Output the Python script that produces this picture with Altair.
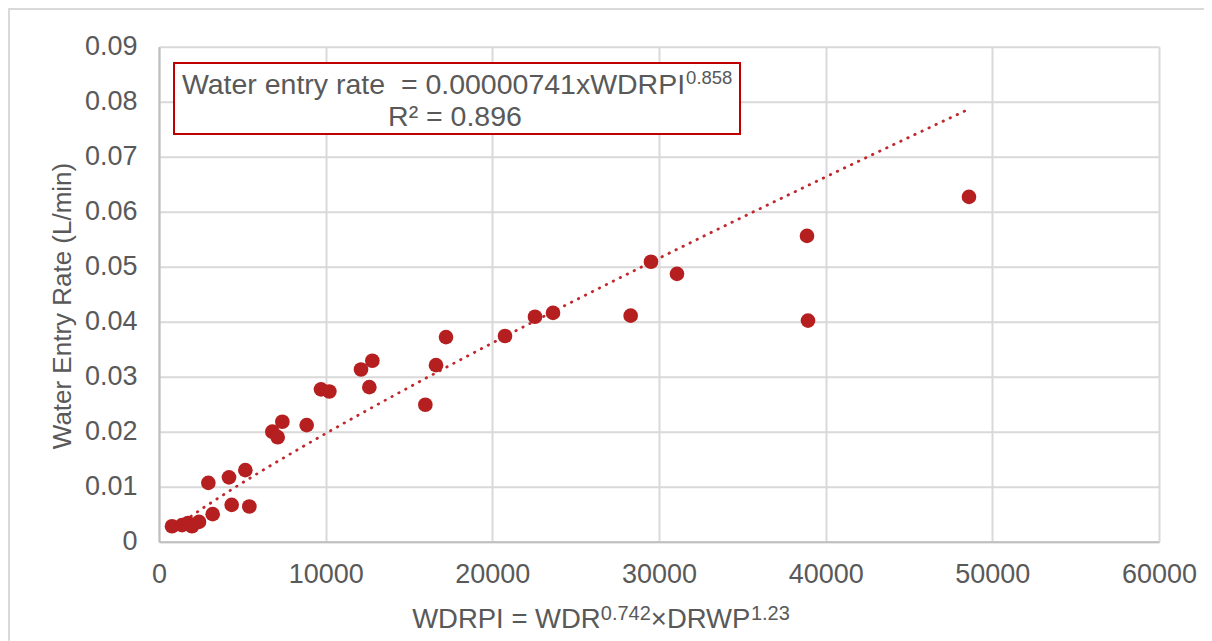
import altair as alt
import pandas as pd

# ---- data ----
wdrpi = [48600, 38880, 38940, 29520, 31080, 28300, 23640, 22560, 20760, 17220,
         16620, 15980, 12800, 12120, 12620, 9720, 10220, 8860, 7400, 6800,
         7120, 5180, 4200, 2960, 3220, 4360, 5420, 780, 1380, 1740, 1980, 2400]
rate = [0.0627, 0.0556, 0.0402, 0.0509, 0.0487, 0.0411, 0.0416, 0.0409, 0.0374, 0.0372,
        0.0321, 0.0249, 0.0329, 0.0313, 0.0281, 0.0277, 0.0273, 0.0212, 0.0218, 0.0200,
        0.0190, 0.0130, 0.0117, 0.0107, 0.0050, 0.0067, 0.0064, 0.0028, 0.0030, 0.0034,
        0.0028, 0.0036]

x_ticks = [0, 10000, 20000, 30000, 40000, 50000, 60000]
y_ticks = [0, 0.01, 0.02, 0.03, 0.04, 0.05, 0.06, 0.07, 0.08, 0.09]

eq_main = "Water entry rate\u00a0 = 0.00000741xWDRPI"
eq_exp = "0.858"
r2_text = "R\u00b2 = 0.896"
x_title_parts = ["WDRPI = WDR", "0.742", "\u00d7DRWP", "1.23"]
y_title = "Water Entry Rate (L/min)"

df = pd.DataFrame({"WDRPI": wdrpi, "rate": rate})

# ---- layout / style ----
W, H = 1000, 495
PL, PT, PR, PB = 151, 38.7, 45, 99
OX, OY = 8 + PL, 8 + PT  # page position of the plot origin
FONT = "Liberation Sans"
GRAY = "#595959"
RED = "#B51F1F"
GRID = "#D9D9D9"

# Arial / Liberation Sans advance widths (per em)
CW = {**{str(d): 0.556 for d in range(10)}, ".": 0.278, " ": 0.278, "\u00a0": 0.278,
      "=": 0.584, "\u00d7": 0.584, "W": 0.944, "D": 0.722, "R": 0.722, "P": 0.667,
      "I": 0.278, "x": 0.5, "a": 0.556, "t": 0.278, "e": 0.556, "r": 0.333,
      "n": 0.556, "y": 0.5, "\u00b2": 0.333}


def tw(s, size):
    return sum(CW.get(c, 0.556) for c in s) * size


one = pd.DataFrame({"k": [0]})


def txt(s, px, py, size, align="left", angle=0):
    props = dict(text=s, font=FONT, fontSize=size, color=GRAY, align=align,
                 baseline="alphabetic")
    if angle:
        props["angle"] = angle
    return alt.Chart(one).mark_text(**props).encode(
        x=alt.value(px - OX), y=alt.value(py - OY))


x_enc = alt.X("WDRPI:Q",
              scale=alt.Scale(domain=[0, 60000], nice=False, zero=False),
              axis=alt.Axis(values=x_ticks, title=None, format="d", ticks=False,
                            labelPadding=20, labelFlush=False, grid=True))
y_enc = alt.Y("rate:Q",
              scale=alt.Scale(domain=[0, 0.09], nice=False),
              axis=alt.Axis(values=y_ticks, title=None, ticks=False, labelPadding=22,
                            grid=True, labelFlush=False,
                            labelExpr="datum.value == 0 ? '0' : format(datum.value, '.2f')"))

base = alt.Chart(df)
trend = base.transform_regression("WDRPI", "rate", method="pow").mark_line(
    color="#C0282D", strokeWidth=2.8, strokeDash=[0.5, 7.3], strokeCap="round"
).encode(x=x_enc, y=y_enc)
points = base.mark_circle(size=215, color=RED, opacity=1).encode(
    x=alt.X("WDRPI:Q"), y=alt.Y("rate:Q"))

# outer chart frame (top and left edges)
frame_top = alt.Chart(one).mark_rule(color=GRID, strokeWidth=2).encode(
    x=alt.value(-PL), x2=alt.value(W + PR), y=alt.value(-PT + 1))
frame_left = alt.Chart(one).mark_rule(color=GRID, strokeWidth=2).encode(
    x=alt.value(-PL + 1), y=alt.value(-PT), y2=alt.value(H + PB))

# equation box
box = alt.Chart(one).mark_rect(fill="white", stroke="#C00000", strokeWidth=2).encode(
    x=alt.value(174 - OX), x2=alt.value(740 - OX),
    y=alt.value(63 - OY), y2=alt.value(134 - OY))

EQ_SIZE, EQ_SUP = 28.5, 18.5
l1_w = tw(eq_main, EQ_SIZE) + tw(eq_exp, EQ_SUP)
l1_x0 = 456 - l1_w / 2
l1_j = l1_x0 + tw(eq_main, EQ_SIZE)
eq1 = txt(eq_main, l1_j, 94, EQ_SIZE, align="right")
eq1s = txt(eq_exp, l1_j + 1, 84, EQ_SUP)
eq2 = txt(r2_text, 455, 126, EQ_SIZE, align="center")

# x-axis title with superscripts
XT, XS = 27.5, 20
sizes = [XT, XS, XT, XS]
offs = [0, -8, 0, -8]
total = sum(tw(s, z) for s, z in zip(x_title_parts, sizes))
cx = 601 - total / 2
xt_layers = []
for s, z, o in zip(x_title_parts, sizes, offs):
    xt_layers.append(txt(s, cx, 628 + o, z))
    cx += tw(s, z)

# y-axis title
yt = txt(y_title, 71, 306, 26, align="center", angle=270)

chart = alt.layer(
    frame_top, frame_left, trend, points, box, eq1, eq1s, eq2, yt, *xt_layers
).properties(
    width=W, height=H,
    autosize=alt.AutoSizeParams(type="none"),
    padding={"left": PL, "top": PT, "right": PR, "bottom": PB},
).configure_view(stroke=None).configure_axis(
    labelFont=FONT, labelFontSize=27, labelColor=GRAY,
    gridColor=GRID, gridWidth=2, domainColor="#BFBFBF", domainWidth=2,
).configure_axisX(domain=True).configure_axisY(domain=True)

chart.save("out.html", embed_options={"renderer": "svg", "actions": False})
